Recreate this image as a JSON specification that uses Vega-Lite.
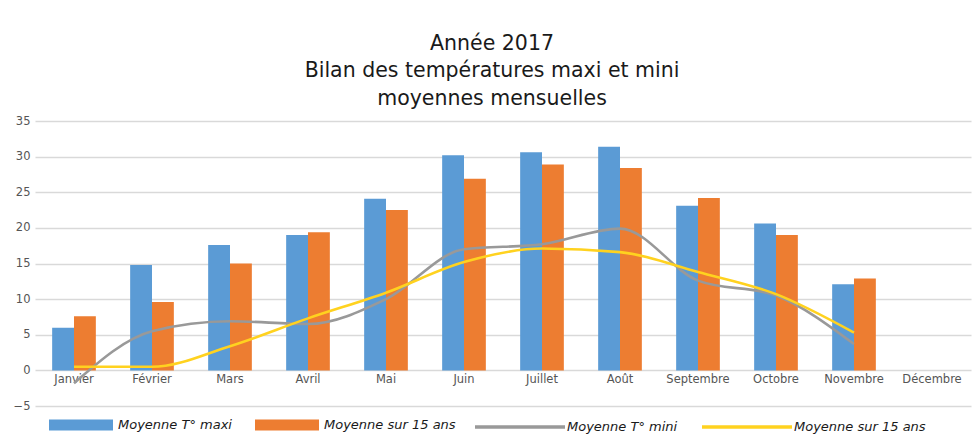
{
  "$schema": "https://vega.github.io/schema/vega-lite/v6.json",
  "autosize": {"type": "none"},
  "width": 936,
  "height": 285,
  "padding": {"left": 35, "top": 121, "right": 2, "bottom": 34},
  "background": "#ffffff",
  "title": {
    "text": ["Année 2017", "Bilan des températures maxi et mini", "moyennes mensuelles"],
    "font": "DejaVu Sans",
    "fontSize": 20.5,
    "fontWeight": "normal",
    "lineHeight": 27.5,
    "color": "#1a1a1a",
    "anchor": "middle",
    "frame": "bounds",
    "offset": 6
  },
  "data": {
    "values": [
      {"mois": "Janvier", "serie": "Moyenne T° maxi", "type": "bar", "valeur": 6.0},
      {"mois": "Février", "serie": "Moyenne T° maxi", "type": "bar", "valeur": 14.8},
      {"mois": "Mars", "serie": "Moyenne T° maxi", "type": "bar", "valeur": 17.6},
      {"mois": "Avril", "serie": "Moyenne T° maxi", "type": "bar", "valeur": 19.0},
      {"mois": "Mai", "serie": "Moyenne T° maxi", "type": "bar", "valeur": 24.1},
      {"mois": "Juin", "serie": "Moyenne T° maxi", "type": "bar", "valeur": 30.2},
      {"mois": "Juillet", "serie": "Moyenne T° maxi", "type": "bar", "valeur": 30.6},
      {"mois": "Août", "serie": "Moyenne T° maxi", "type": "bar", "valeur": 31.4},
      {"mois": "Septembre", "serie": "Moyenne T° maxi", "type": "bar", "valeur": 23.1},
      {"mois": "Octobre", "serie": "Moyenne T° maxi", "type": "bar", "valeur": 20.6},
      {"mois": "Novembre", "serie": "Moyenne T° maxi", "type": "bar", "valeur": 12.1},
      {"mois": "Janvier", "serie": "Moyenne sur 15 ans", "type": "bar", "valeur": 7.6},
      {"mois": "Février", "serie": "Moyenne sur 15 ans", "type": "bar", "valeur": 9.6},
      {"mois": "Mars", "serie": "Moyenne sur 15 ans", "type": "bar", "valeur": 15.0},
      {"mois": "Avril", "serie": "Moyenne sur 15 ans", "type": "bar", "valeur": 19.4},
      {"mois": "Mai", "serie": "Moyenne sur 15 ans", "type": "bar", "valeur": 22.5},
      {"mois": "Juin", "serie": "Moyenne sur 15 ans", "type": "bar", "valeur": 26.9},
      {"mois": "Juillet", "serie": "Moyenne sur 15 ans", "type": "bar", "valeur": 28.9},
      {"mois": "Août", "serie": "Moyenne sur 15 ans", "type": "bar", "valeur": 28.4},
      {"mois": "Septembre", "serie": "Moyenne sur 15 ans", "type": "bar", "valeur": 24.2},
      {"mois": "Octobre", "serie": "Moyenne sur 15 ans", "type": "bar", "valeur": 19.0},
      {"mois": "Novembre", "serie": "Moyenne sur 15 ans", "type": "bar", "valeur": 12.9},
      {"mois": "Janvier", "serie": "Moyenne T° mini", "type": "line", "valeur": -1.8},
      {"mois": "Février", "serie": "Moyenne T° mini", "type": "line", "valeur": 5.5},
      {"mois": "Mars", "serie": "Moyenne T° mini", "type": "line", "valeur": 6.9},
      {"mois": "Avril", "serie": "Moyenne T° mini", "type": "line", "valeur": 6.5},
      {"mois": "Mai", "serie": "Moyenne T° mini", "type": "line", "valeur": 10.0},
      {"mois": "Juin", "serie": "Moyenne T° mini", "type": "line", "valeur": 17.0},
      {"mois": "Juillet", "serie": "Moyenne T° mini", "type": "line", "valeur": 17.7},
      {"mois": "Août", "serie": "Moyenne T° mini", "type": "line", "valeur": 19.9},
      {"mois": "Septembre", "serie": "Moyenne T° mini", "type": "line", "valeur": 12.6},
      {"mois": "Octobre", "serie": "Moyenne T° mini", "type": "line", "valeur": 10.5},
      {"mois": "Novembre", "serie": "Moyenne T° mini", "type": "line", "valeur": 3.7},
      {"mois": "Janvier", "serie": "Moyenne sur 15 ans", "type": "line", "valeur": 0.5},
      {"mois": "Février", "serie": "Moyenne sur 15 ans", "type": "line", "valeur": 0.5},
      {"mois": "Mars", "serie": "Moyenne sur 15 ans", "type": "line", "valeur": 3.4},
      {"mois": "Avril", "serie": "Moyenne sur 15 ans", "type": "line", "valeur": 7.3},
      {"mois": "Mai", "serie": "Moyenne sur 15 ans", "type": "line", "valeur": 10.9},
      {"mois": "Juin", "serie": "Moyenne sur 15 ans", "type": "line", "valeur": 15.2},
      {"mois": "Juillet", "serie": "Moyenne sur 15 ans", "type": "line", "valeur": 17.1},
      {"mois": "Août", "serie": "Moyenne sur 15 ans", "type": "line", "valeur": 16.6},
      {"mois": "Septembre", "serie": "Moyenne sur 15 ans", "type": "line", "valeur": 13.8},
      {"mois": "Octobre", "serie": "Moyenne sur 15 ans", "type": "line", "valeur": 10.7},
      {"mois": "Novembre", "serie": "Moyenne sur 15 ans", "type": "line", "valeur": 5.3}
    ]
  },
  "encoding": {
    "x": {
      "field": "mois",
      "type": "nominal",
      "scale": {
        "domain": ["Janvier", "Février", "Mars", "Avril", "Mai", "Juin", "Juillet", "Août", "Septembre", "Octobre", "Novembre", "Décembre"],
        "paddingInner": 0.44,
        "paddingOuter": 0.22
      },
      "axis": {
        "title": null,
        "labelAngle": 0,
        "offset": -35.6,
        "domain": false,
        "ticks": false,
        "labelPadding": 3,
        "labelFont": "DejaVu Sans",
        "labelFontSize": 11.5,
        "labelColor": "#555555",
        "grid": false
      }
    },
    "y": {
      "field": "valeur",
      "type": "quantitative",
      "scale": {"domain": [-5, 35], "nice": false, "zero": false},
      "axis": {
        "title": null,
        "values": [-5, 0, 5, 10, 15, 20, 25, 30, 35],
        "domain": false,
        "ticks": false,
        "labelPadding": 5,
        "labelFont": "DejaVu Sans",
        "labelFontSize": 11.5,
        "labelColor": "#555555",
        "gridColor": "#d9d9d9",
        "gridWidth": 1.5
      }
    }
  },
  "layer": [
    {
      "transform": [{"filter": "datum.type === 'bar'"}],
      "mark": {"type": "bar"},
      "encoding": {
        "xOffset": {
          "field": "serie",
          "type": "nominal",
          "scale": {"domain": ["Moyenne T° maxi", "Moyenne sur 15 ans"], "paddingInner": 0, "paddingOuter": 0}
        },
        "fill": {
          "field": "serie",
          "type": "nominal",
          "scale": {"domain": ["Moyenne T° maxi", "Moyenne sur 15 ans"], "range": ["#5b9bd5", "#ed7d31"]},
          "legend": {
            "title": null,
            "orient": "none",
            "direction": "horizontal",
            "legendX": 14,
            "legendY": 272,
            "symbolType": "M-1,-0.17H1V0.17H-1Z",
            "symbolSize": 4096,
            "symbolStrokeWidth": 0,
            "symbolOpacity": 1,
            "labelFont": "DejaVu Sans",
            "labelFontStyle": "italic",
            "labelFontSize": 13,
            "labelColor": "#1a1a1a",
            "labelOffset": 5,
            "columnPadding": 23,
            "labelLimit": 300
          }
        }
      }
    },
    {
      "transform": [{"filter": "datum.type === 'line'"}],
      "mark": {"type": "line", "interpolate": "monotone", "strokeWidth": 2.6},
      "encoding": {
        "stroke": {
          "field": "serie",
          "type": "nominal",
          "scale": {"domain": ["Moyenne T° mini", "Moyenne sur 15 ans"], "range": ["#999999", "#ffd21f"]},
          "legend": {
            "title": null,
            "orient": "none",
            "direction": "horizontal",
            "legendX": 438,
            "legendY": 259,
            "symbolType": "stroke",
            "symbolSize": 8100,
            "symbolStrokeWidth": 3.5,
            "labelFont": "DejaVu Sans",
            "labelFontStyle": "italic",
            "labelFontSize": 13,
            "labelColor": "#1a1a1a",
            "labelOffset": 0,
            "columnPadding": 17,
            "labelLimit": 300
          }
        }
      }
    }
  ],
  "config": {
    "view": {"stroke": null}
  }
}
